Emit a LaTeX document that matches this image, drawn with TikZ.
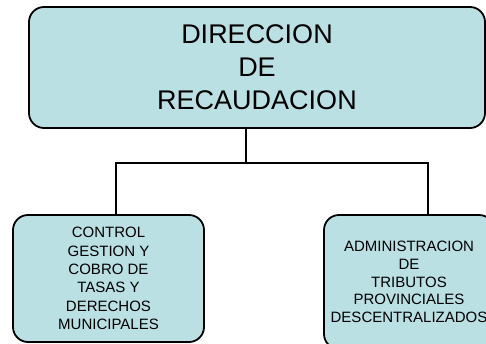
\documentclass[tikz,border=0pt]{standalone}
\usepackage{fontspec}
\setmainfont{Liberation Sans}
\usetikzlibrary{positioning}
\definecolor{cajaazul}{RGB}{186,224,228}

\begin{document}
\begin{tikzpicture}[x=1pt,y=-1pt,
    caja/.style={draw=black,line width=1.8pt,fill=cajaazul,rounded corners=15pt,align=center},
    rama/.style={line width=2.6pt}]
            \useasboundingbox (0,0) rectangle (486,344);

            \node[caja,minimum width=456pt,minimum height=121pt,font=\fontsize{27}{33}\selectfont] (direccion) at (257,67.5) {DIRECCION\\DE\\RECAUDACION};
            \node[caja,minimum width=191pt,minimum height=127pt,font=\fontsize{15}{18.4}\selectfont] (control) at (108.5,278.5) {CONTROL\\GESTION Y\\COBRO DE\\TASAS Y\\DERECHOS\\MUNICIPALES};
            \node[caja,minimum width=170pt,minimum height=134pt,font=\fontsize{15}{17.8}\selectfont] (tributos) at (409,282) {ADMINISTRACION\\DE\\TRIBUTOS\\PROVINCIALES\\DESCENTRALIZADOS};

            \coordinate (nudo) at (246,163);
            \coordinate (nudoizq) at (116,163);
            \coordinate (nudoder) at (428,163);

            \draw[rama] (direccion.south -| nudo)--(nudo);
            \draw[rama,line cap=rect] (nudoizq)--(nudoder);
            \draw[rama] (nudoizq)--(nudoizq |- control.north);
            \draw[rama] (nudoder)--(nudoder |- tributos.north);
        \end{tikzpicture}
\end{document}
